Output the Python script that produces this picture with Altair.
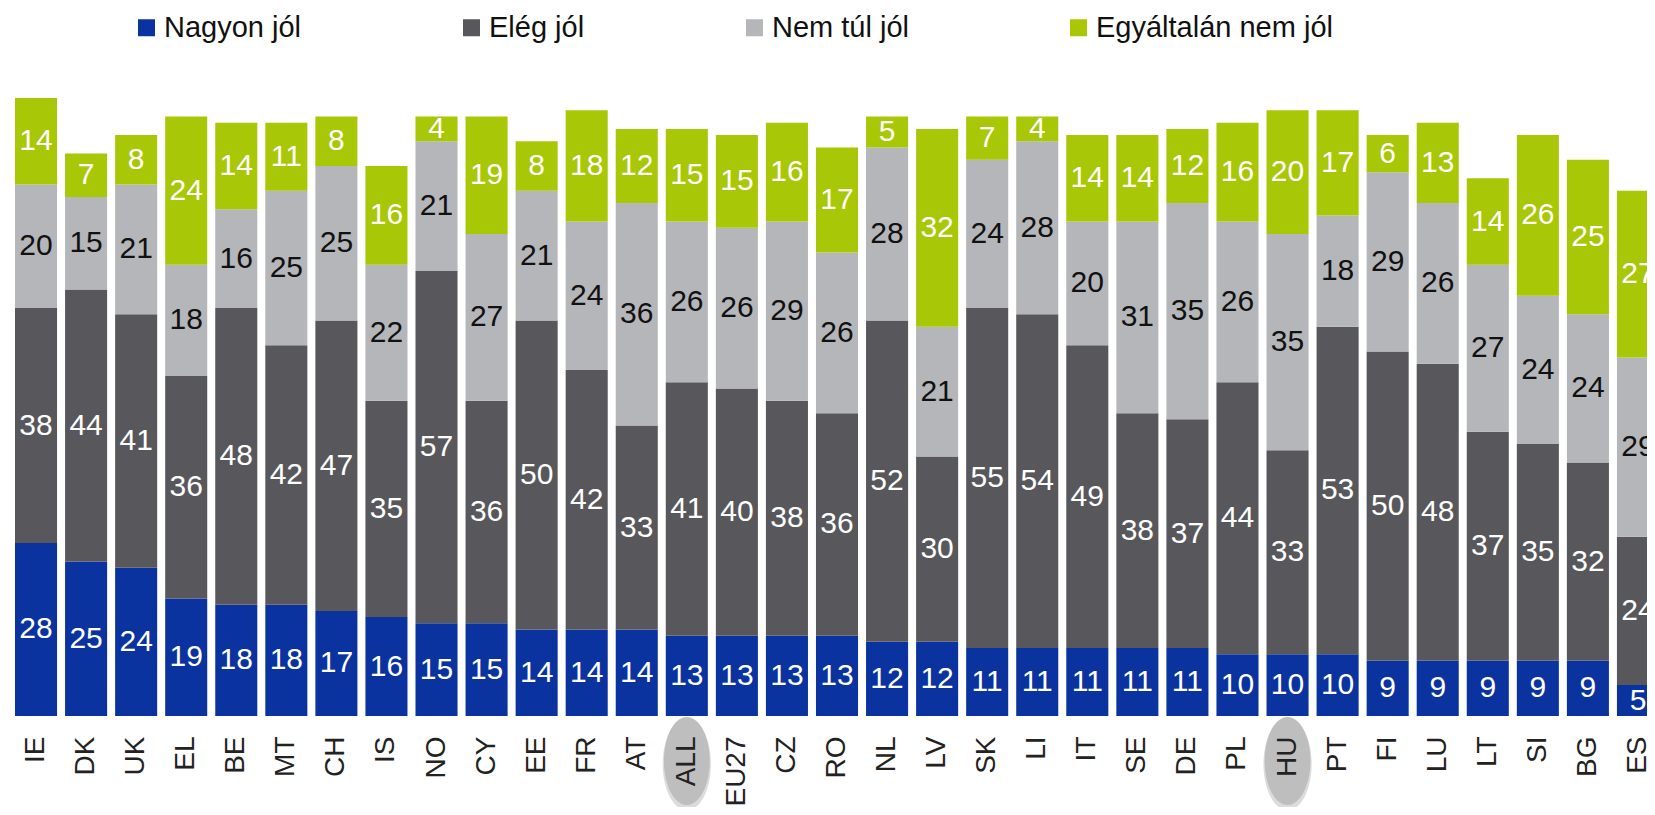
import altair as alt
import pandas as pd

countries = ["IE", "DK", "UK", "EL", "BE", "MT", "CH", "IS", "NO", "CY", "EE", "FR", "AT",
             "ALL", "EU27", "CZ", "RO", "NL", "LV", "SK", "LI", "IT", "SE", "DE", "PL", "HU",
             "PT", "FI", "LU", "LT", "SI", "BG", "ES"]
series_names = ["Nagyon jól", "Elég jól", "Nem túl jól", "Egyáltalán nem jól"]
nagyon = [28, 25, 24, 19, 18, 18, 17, 16, 15, 15, 14, 14, 14, 13, 13, 13, 13, 12, 12, 11, 11,
          11, 11, 11, 10, 10, 10, 9, 9, 9, 9, 9, 5]
eleg = [38, 44, 41, 36, 48, 42, 47, 35, 57, 36, 50, 42, 33, 41, 40, 38, 36, 52, 30, 55, 54,
        49, 38, 37, 44, 33, 53, 50, 48, 37, 35, 32, 24]
nemtul = [20, 15, 21, 18, 16, 25, 25, 22, 21, 27, 21, 24, 36, 26, 26, 29, 26, 28, 21, 24, 28,
          20, 31, 35, 26, 35, 18, 29, 26, 27, 24, 24, 29]
egyaltalan = [14, 7, 8, 24, 14, 11, 8, 16, 4, 19, 8, 18, 12, 15, 15, 16, 17, 5, 32, 7, 4,
              14, 14, 12, 16, 20, 17, 6, 13, 14, 26, 25, 27]
highlighted = ["ALL", "HU"]

colors = ["#0A33A0", "#58585C", "#B5B6B9", "#A8C706"]
text_colors = ["#FFFFFF", "#FFFFFF", "#111111", "#FFFFFF"]

rows = []
for s_i, (name, vals) in enumerate(zip(series_names, [nagyon, eleg, nemtul, egyaltalan])):
    for c, v in zip(countries, vals):
        rows.append({"country": c, "series": name, "value": v, "ord": s_i,
                     "tcol": text_colors[s_i]})
df = pd.DataFrame(rows)
hl = pd.DataFrame({"country": highlighted})

FONT = "Liberation Sans"
xscale = alt.Scale(domain=countries, range=[0, 1652], paddingInner=0.16, paddingOuter=0.08)

base = alt.Chart(df).transform_stack(
    stack="value", as_=["y0", "y1"], groupby=["country"],
    sort=[alt.SortField("ord", order="ascending")]
).transform_calculate(mid="(datum.y0 + datum.y1) / 2")

x_enc = alt.X("country:N", scale=xscale, sort=countries,
              axis=alt.Axis(title=None, labelAngle=270, labelFontSize=28, labelFont=FONT,
                            labelColor="#222222", ticks=False, domain=False,
                            labelPadding=20, zindex=1, labelOverlap=False))

bars = base.mark_bar().encode(
    x=x_enc,
    y=alt.Y("y0:Q", scale=alt.Scale(domain=[0, 100], nice=False, zero=True), axis=None),
    y2="y1:Q",
    color=alt.Color("series:N", scale=alt.Scale(domain=series_names, range=colors),
                    legend=alt.Legend(title=None, orient="none", direction="horizontal",
                                      legendX=121, legendY=-85, symbolType="square",
                                      symbolSize=289, symbolStrokeWidth=0,
                                      labelFontSize=29, labelFont=FONT, labelColor="#111111",
                                      labelOffset=3, columnPadding=155, labelLimit=400)),
)

labels = base.mark_text(fontSize=30, font=FONT, baseline="middle", align="center").encode(
    x=alt.X("country:N", scale=xscale, sort=countries),
    y=alt.Y("mid:Q"),
    text="value:Q",
    fill=alt.Fill("tcol:N", scale=None),
)

ellipse_path = "M -0.52 0 A 0.52 1 0 1 0 0.52 0 A 0.52 1 0 1 0 -0.52 0 Z"
shadow = alt.Chart(hl).mark_point(shape=ellipse_path, filled=True, size=8600,
                                  color="#9A9A9A", opacity=0.35, strokeWidth=0).encode(
    x=alt.X("country:N", scale=xscale, sort=countries),
    y=alt.value(666),
)
ellipse = alt.Chart(hl).mark_point(shape=ellipse_path, filled=True, size=7744,
                                   color="#BEBEBE", opacity=1, strokeWidth=0).encode(
    x=alt.X("country:N", scale=xscale, sort=countries),
    y=alt.value(663),
)

chart = alt.layer(shadow, ellipse, bars, labels).properties(
    width=1636, height=618,
    padding={"left": 3, "top": 90, "right": 0, "bottom": 91},
    autosize=alt.AutoSizeParams(type="none"),
    background="white",
).configure_view(stroke=None)

chart.save("out.html", embed_options={"renderer": "svg", "actions": False})
